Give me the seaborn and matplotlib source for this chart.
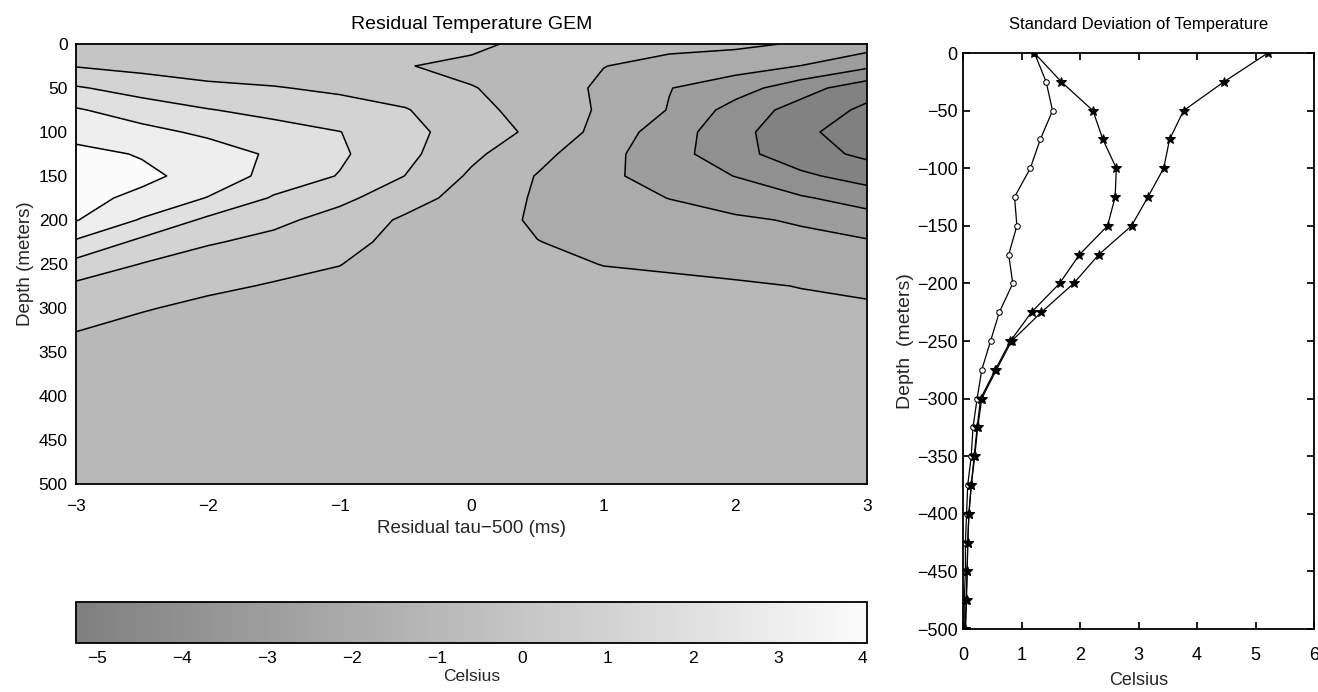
import numpy as np
import matplotlib
matplotlib.use("Agg")
import matplotlib.pyplot as plt
import seaborn as sns
from matplotlib.colors import LinearSegmentedColormap, Normalize
from matplotlib.cm import ScalarMappable

#%% -------------------------------------------------------------------------
# Data
#----------------------------------------------------------------------------

# residual tau-500 axis (ms) and depth axis (m) of the contour grid
tau = [-3.0, -2.5, -2.0, -1.5, -1.0, -0.5, 0.0, 0.5, 1.0, 1.5, 2.0, 2.5, 3.0]
depth_grid = [0, 25, 50, 75, 100, 125, 150, 175, 200, 225, 250, 275, 300, 325, 350, 400, 500]

# residual temperature (Celsius), one list per tau column, top to bottom
temp_by_tau = [
    [0.4, 0.95, 2.1, 3.1, 3.75, 4.2, 4.3, 4.2, 4.05, 2.85, 1.7, 0.8, 0.35, 0.02, -0.25, -0.45, -0.5],
    [0.3, 0.7, 1.6, 2.5, 3.3, 3.95, 4.15, 3.85, 2.9, 1.75, 0.97, 0.45, 0.05, -0.2, -0.35, -0.45, -0.5],
    [0.25, 0.55, 1.2, 2.05, 2.8, 3.5, 3.75, 2.95, 1.8, 1.1, 0.5, 0.12, -0.15, -0.3, -0.4, -0.48, -0.5],
    [0.25, 0.5, 1.05, 1.7, 2.4, 2.85, 2.6, 1.9, 1.25, 0.7, 0.2, -0.05, -0.2, -0.35, -0.42, -0.48, -0.5],
    [0.25, 0.45, 0.85, 1.35, 2.02, 2.15, 1.95, 1.25, 0.6, 0.3, 0.02, -0.2, -0.3, -0.4, -0.45, -0.5, -0.5],
    [0.5, 0.05, 0.6, 1.05, 1.3, 1.25, 0.98, 0.4, -0.15, -0.3, -0.4, -0.45, -0.48, -0.5, -0.5, -0.5, -0.5],
    [0.3, -0.3, 0.05, 0.4, 0.5, 0.2, -0.15, -0.4, -0.5, -0.5, -0.5, -0.5, -0.5, -0.5, -0.5, -0.5, -0.5],
    [-0.4, -0.5, -0.45, -0.55, -0.21, -0.7, -1.05, -1.11, -1.15, -0.98, -0.8, -0.65, -0.55, -0.5, -0.5, -0.5, -0.5],
    [-0.6, -0.98, -1.17, -1.1, -1.35, -1.69, -1.76, -1.6, -1.4, -1.25, -1.02, -0.8, -0.65, -0.55, -0.5, -0.5, -0.5],
    [-0.75, -1.3, -1.97, -2.05, -2.55, -2.6, -2.5, -2.02, -1.6, -1.35, -1.1, -0.85, -0.7, -0.6, -0.55, -0.5, -0.5],
    [-0.8, -1.6, -2.55, -3.4, -3.6, -3.65, -3.02, -2.45, -1.85, -1.55, -1.25, -0.9, -0.75, -0.62, -0.55, -0.5, -0.5],
    [-1.1, -2.02, -3.6, -4.4, -4.9, -4.6, -3.8, -2.9, -2.1, -1.75, -1.4, -1.02, -0.85, -0.7, -0.6, -0.52, -0.5],
    [-1.5, -2.8, -4.6, -5.2, -5.25, -5.2, -4.45, -3.4, -2.6, -1.9, -1.5, -1.15, -0.9, -0.75, -0.65, -0.55, -0.5],
]
contour_levels = [-5, -4, -3, -2, -1, 0, 1, 2, 3, 4]
colorbar_ticks = [-5, -4, -3, -2, -1, 0, 1, 2, 3, 4]

# standard deviation profiles (Celsius) every 25 m
sd_depth = [0, -25, -50, -75, -100, -125, -150, -175, -200, -225, -250,
            -275, -300, -325, -350, -375, -400, -425, -450, -475, -500]
sd_a = [1.22, 1.42, 1.53, 1.32, 1.15, 0.88, 0.92, 0.78, 0.85, 0.62, 0.47,
        0.32, 0.24, 0.17, 0.14, 0.08, 0.06, 0.04, 0.04, 0.02, 0.02]
sd_b = [1.22, 1.68, 2.22, 2.39, 2.62, 2.60, 2.47, 1.99, 1.65, 1.17, 0.81,
        0.55, 0.30, 0.24, 0.19, 0.14, 0.10, 0.08, 0.07, 0.06, 0.04]
sd_c = [5.21, 4.46, 3.77, 3.53, 3.43, 3.16, 2.88, 2.32, 1.89, 1.34, 0.83,
        0.57, 0.32, 0.25, 0.20, 0.14, 0.10, 0.08, 0.07, 0.05, 0.04]

#%% -------------------------------------------------------------------------
# Style
#----------------------------------------------------------------------------

sns.set_theme(style="ticks")
plt.rcParams["font.family"] = ["Liberation Sans", "DejaVu Sans"]
plt.rcParams["axes.edgecolor"] = "black"
plt.rcParams["axes.linewidth"] = 1.0
plt.rcParams["xtick.color"] = "black"
plt.rcParams["ytick.color"] = "black"
plt.rcParams["text.color"] = "black"

# grey colour map like the old matlab figure
grey_map = LinearSegmentedColormap.from_list("greys", [(0.50, 0.50, 0.50), (0.985, 0.985, 0.985)])

fig = plt.figure(figsize=(13.18, 6.92), dpi=100)

#%% -------------------------------------------------------------------------
# Left: filled contour of residual temperature
#----------------------------------------------------------------------------

Z = np.array(temp_by_tau).T
X, Y = np.meshgrid(tau, depth_grid)
norm = Normalize(vmin=Z.min(), vmax=4.05)

# each band takes the colour of its lower level (matlab contourf behaviour)
fill_levels = [Z.min()] + contour_levels + [Z.max()]
band_colors = [grey_map(norm(lv)) for lv in fill_levels[:-1]]

ax = fig.add_axes([0.0577, 0.3006, 0.6002, 0.6358])
ax.contourf(X, Y, Z, levels=fill_levels, colors=band_colors)
ax.contour(X, Y, Z, levels=contour_levels, colors="black", linewidths=1.1,
           linestyles="solid")
ax.set_xlim(-3, 3)
ax.set_ylim(500, 0)
ax.set_xticks([-3, -2, -1, 0, 1, 2, 3])
ax.set_yticks(range(0, 501, 50))
ax.tick_params(axis="x", length=0, labelsize=12.5, pad=11)
ax.tick_params(axis="y", length=0, labelsize=12.5, pad=6)
ax.set_title("Residual Temperature GEM", fontsize=14, pad=11)
ax.set_xlabel("Residual tau\u2212500 (ms)", fontsize=13.5, labelpad=4)
ax.set_ylabel("Depth (meters)", fontsize=13.5, labelpad=3)
for sp in ax.spines.values():
    sp.set_linewidth(1.3)

# colour bar underneath
cax = fig.add_axes([0.0577, 0.0708, 0.6002, 0.059])
cb = fig.colorbar(ScalarMappable(norm=norm, cmap=grey_map), cax=cax, orientation="horizontal")
cb.set_ticks(colorbar_ticks)
cb.outline.set_linewidth(1.3)
cax.tick_params(direction="in", top=True, bottom=True, length=7, labelsize=12.5, pad=6)
cb.set_label("Celsius", fontsize=12.5, labelpad=2)

#%% -------------------------------------------------------------------------
# Right: standard deviation profiles
#----------------------------------------------------------------------------

ax2 = fig.add_axes([0.7307, 0.0910, 0.2663, 0.8324])
sns.lineplot(x=sd_a, y=sd_depth, sort=False, estimator=None, ax=ax2, color="black",
             linewidth=0.9, marker="o", markersize=4, markerfacecolor="white",
             markeredgecolor="black")
sns.lineplot(x=sd_b, y=sd_depth, sort=False, estimator=None, ax=ax2, color="black",
             linewidth=0.9, marker="*", markersize=7, markeredgecolor="black")
sns.lineplot(x=sd_c, y=sd_depth, sort=False, estimator=None, ax=ax2, color="black",
             linewidth=0.9, marker="*", markersize=7, markeredgecolor="black")
ax2.set_xlim(0, 6)
ax2.set_ylim(-500, 0)
ax2.set_xticks(range(0, 7))
ax2.set_yticks(range(-500, 1, 50))
ax2.tick_params(axis="x", direction="in", top=True, length=5, pad=13, labelsize=13)
ax2.tick_params(axis="y", direction="in", right=True, length=5, pad=4, labelsize=13)
ax2.set_title("Standard Deviation of Temperature", fontsize=12, pad=17)
ax2.set_xlabel("Celsius", fontsize=13, labelpad=6)
ax2.set_ylabel("Depth  (meters)", fontsize=14, labelpad=2)
for sp in ax2.spines.values():
    sp.set_linewidth(1.3)

fig.savefig("out.png", dpi=100)
